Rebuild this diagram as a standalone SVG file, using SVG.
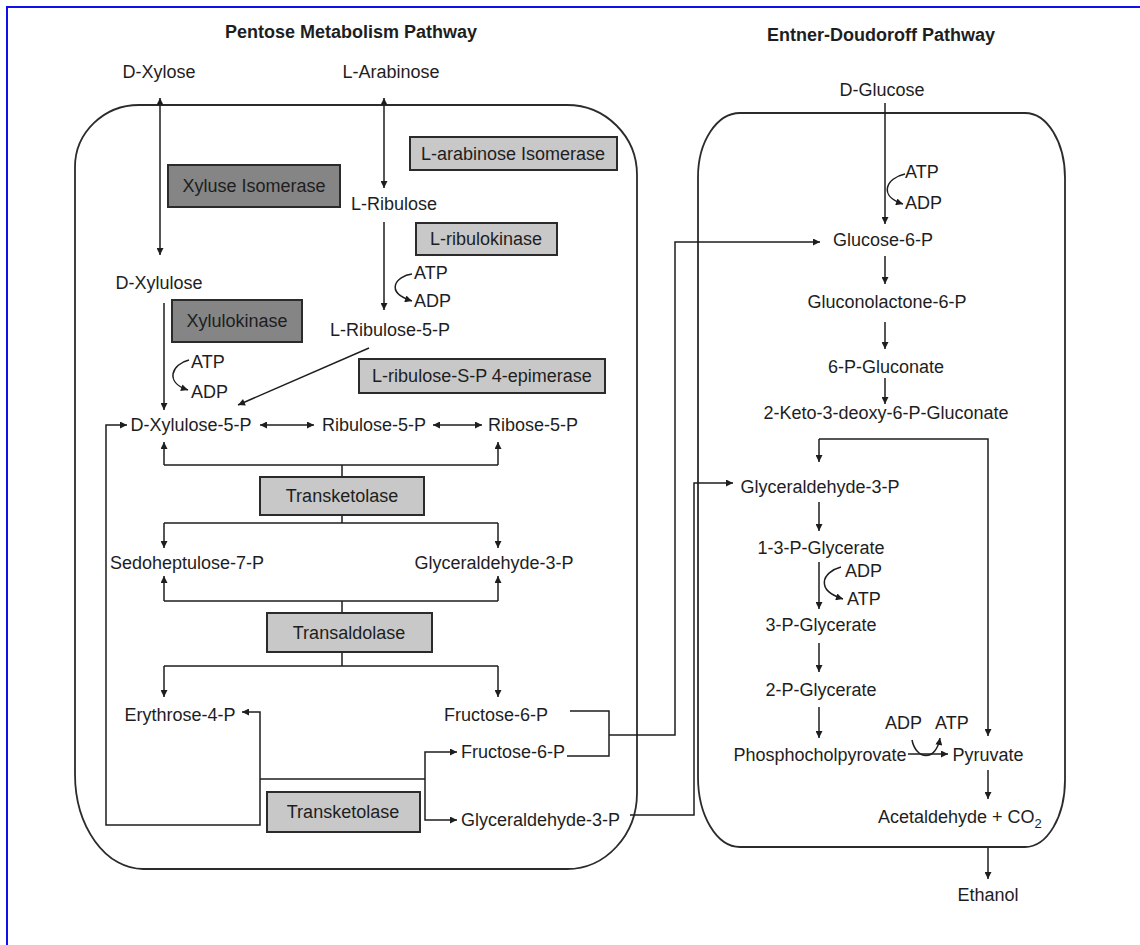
<svg xmlns="http://www.w3.org/2000/svg" width="1140" height="945" viewBox="0 0 1140 945">
<style>
text{font-family:"Liberation Sans",Arial,sans-serif;font-size:18px;fill:#1e1e1e}
.t{font-weight:bold;text-anchor:middle}
.m{text-anchor:middle}
.c{fill:none;stroke:#1e1e1e;stroke-width:1.5}
.a{fill:none;stroke:#1e1e1e;stroke-width:1.5;marker-end:url(#ah)}
.d{fill:none;stroke:#1e1e1e;stroke-width:1.5;marker-start:url(#ah);marker-end:url(#ah)}
.frame{fill:none;stroke:#2b2b2b;stroke-width:1.8}
.lt{fill:#c8c8c8;stroke:#2b2b2b;stroke-width:2}
.dk{fill:#858585;stroke:#2b2b2b;stroke-width:2}
</style>
<defs>
<marker id="ah" viewBox="0 0 10 10" refX="10" refY="5" markerWidth="9" markerHeight="7" markerUnits="userSpaceOnUse" orient="auto-start-reverse">
<path d="M0,0 L10,5 L0,10 z" fill="#1e1e1e"/>
</marker>
</defs>
<rect width="1140" height="945" fill="#ffffff"/>
<path d="M7 945 V7 H1140" fill="none" stroke="#1010ee" stroke-width="2"/>

<g id="pentose-frame">
<path class="frame" d="M139 105 H567 A70 70 0 0 1 637 175 V793 A70 76 0 0 1 567 869 H143 A68 95 0 0 1 75 774 V167 A64 62 0 0 1 139 105 Z"/>
<text class="t" x="351" y="38">Pentose Metabolism Pathway</text>
</g>
<g id="ed-frame">
<path class="frame" d="M740 113 H1025 A40 65 0 0 1 1065 178 V780 A40 67 0 0 1 1025 847 H740 A42 70 0 0 1 698 777 V177 A42 64 0 0 1 740 113 Z"/>
<text class="t" x="881" y="41">Entner-Doudoroff Pathway</text>
</g>

<g id="connectors">
<path class="d" d="M160 255 V98"/>
<path class="d" d="M384 188 V98"/>
<path class="a" d="M384 222 V310"/>
<path class="a" d="M412 274 C396 276 384 292 412 301"/>
<path class="a" d="M164 303 V410"/>
<path class="a" d="M189 360 C172 364 164 382 188 390"/>
<path class="a" d="M369 348 L238 405"/>
<path class="d" d="M260 425 H314"/>
<path class="d" d="M433 425 H482"/>
<path class="c" d="M164 465 H498 M342 465 V477"/>
<path class="a" d="M164 465 V442"/>
<path class="a" d="M498 465 V442"/>
<path class="c" d="M342 515 V523 M164 523 H498"/>
<path class="a" d="M164 523 V548"/>
<path class="a" d="M498 523 V548"/>
<path class="c" d="M164 601 H498 M342 601 V613"/>
<path class="a" d="M164 601 V576"/>
<path class="a" d="M498 601 V576"/>
<path class="c" d="M342 652 V666 M164 666 H498"/>
<path class="a" d="M164 666 V697"/>
<path class="a" d="M498 666 V697"/>
<path class="a" d="M260 779 V712 H242"/>
<path class="a" d="M260 779 V825 H106 V425 H127"/>
<path class="c" d="M260 779 H425"/>
<path class="a" d="M425 779 V752 H457"/>
<path class="a" d="M425 779 V820 H457"/>
<path class="c" d="M570 711 H609 V756 H567"/>
<path class="a" d="M609 735 H675 V242 H820"/>
<path class="a" d="M630 815 H694 V483 H733"/>
<path class="a" d="M885 103 V224"/>
<path class="a" d="M905 174 C886 178 878 196 903 204"/>
<path class="a" d="M885 256 V284"/>
<path class="a" d="M885 322 V349"/>
<path class="a" d="M885 378 V404"/>
<path class="a" d="M819 439 V462"/>
<path class="a" d="M819 439 H988 V736"/>
<path class="a" d="M819 502 V531"/>
<path class="a" d="M819 562 V609"/>
<path class="a" d="M841 567 C822 572 815 590 843 599"/>
<path class="a" d="M819 643 V672"/>
<path class="a" d="M819 707 V738"/>
<path class="a" d="M908 754 H948"/>
<path class="a" d="M912 740 C916 760 936 762 940 738"/>
<path class="a" d="M988 770 V799"/>
<path class="a" d="M988 848 V879"/>
</g>

<g id="d-xylose"><text class="m" x="159" y="78">D-Xylose</text></g>
<g id="l-arabinose"><text class="m" x="391" y="78">L-Arabinose</text></g>
<g id="l-arabinose-isomerase"><rect class="lt" x="410" y="137" width="207" height="33"/><text class="m" x="513" y="160">L-arabinose Isomerase</text></g>
<g id="xyluse-isomerase"><rect class="dk" x="168" y="165" width="172" height="42"/><text class="m" x="254" y="192">Xyluse Isomerase</text></g>
<g id="l-ribulose"><text class="m" x="394" y="210">L-Ribulose</text></g>
<g id="l-ribulokinase"><rect class="lt" x="416" y="223" width="141" height="32"/><text class="m" x="486" y="245">L-ribulokinase</text></g>
<g id="atp1"><text x="414" y="279">ATP</text><text x="414" y="307">ADP</text></g>
<g id="d-xylulose"><text class="m" x="159" y="289">D-Xylulose</text></g>
<g id="xylulokinase"><rect class="dk" x="172" y="300" width="130" height="42"/><text class="m" x="237" y="327">Xylulokinase</text></g>
<g id="l-ribulose-5-p"><text class="m" x="390" y="336">L-Ribulose-5-P</text></g>
<g id="atp2"><text x="191" y="368">ATP</text><text x="191" y="398">ADP</text></g>
<g id="epimerase"><rect class="lt" x="359" y="359" width="246" height="34"/><text class="m" x="482" y="382">L-ribulose-S-P 4-epimerase</text></g>
<g id="d-xylulose-5-p"><text class="m" x="191" y="431">D-Xylulose-5-P</text></g>
<g id="ribulose-5-p"><text class="m" x="374" y="431">Ribulose-5-P</text></g>
<g id="ribose-5-p"><text class="m" x="533" y="431">Ribose-5-P</text></g>
<g id="transketolase1"><rect class="lt" x="260" y="477" width="164" height="38"/><text class="m" x="342" y="502">Transketolase</text></g>
<g id="sedoheptulose"><text class="m" x="187" y="569">Sedoheptulose-7-P</text></g>
<g id="gap1"><text class="m" x="494" y="569">Glyceraldehyde-3-P</text></g>
<g id="transaldolase"><rect class="lt" x="267" y="613" width="165" height="39"/><text class="m" x="349" y="639">Transaldolase</text></g>
<g id="erythrose"><text class="m" x="180" y="721">Erythrose-4-P</text></g>
<g id="fructose1"><text class="m" x="496" y="721">Fructose-6-P</text></g>
<g id="fructose2"><text x="461" y="758">Fructose-6-P</text></g>
<g id="transketolase2"><rect class="lt" x="267" y="792" width="153" height="40"/><text class="m" x="343" y="818">Transketolase</text></g>
<g id="gap2"><text x="461" y="826">Glyceraldehyde-3-P</text></g>

<g id="d-glucose"><text class="m" x="882" y="96">D-Glucose</text></g>
<g id="atp3"><text x="905" y="178">ATP</text><text x="905" y="209">ADP</text></g>
<g id="glucose-6-p"><text class="m" x="883" y="246">Glucose-6-P</text></g>
<g id="gluconolactone"><text class="m" x="887" y="308">Gluconolactone-6-P</text></g>
<g id="gluconate"><text class="m" x="886" y="373">6-P-Gluconate</text></g>
<g id="kdpg"><text class="m" x="886" y="419">2-Keto-3-deoxy-6-P-Gluconate</text></g>
<g id="gap3"><text class="m" x="820" y="493">Glyceraldehyde-3-P</text></g>
<g id="bpg"><text class="m" x="821" y="554">1-3-P-Glycerate</text></g>
<g id="atp4"><text x="845" y="577">ADP</text><text x="847" y="605">ATP</text></g>
<g id="pg3"><text class="m" x="821" y="631">3-P-Glycerate</text></g>
<g id="pg2"><text class="m" x="821" y="696">2-P-Glycerate</text></g>
<g id="atp5"><text x="885" y="729">ADP</text><text x="935" y="729">ATP</text></g>
<g id="pep"><text class="m" x="820" y="761">Phosphocholpyrovate</text></g>
<g id="pyruvate"><text class="m" x="988" y="761">Pyruvate</text></g>
<g id="acetaldehyde"><text x="878" y="823">Acetaldehyde + CO<tspan font-size="13" dy="5">2</tspan></text></g>
<g id="ethanol"><text class="m" x="988" y="901">Ethanol</text></g>
</svg>
